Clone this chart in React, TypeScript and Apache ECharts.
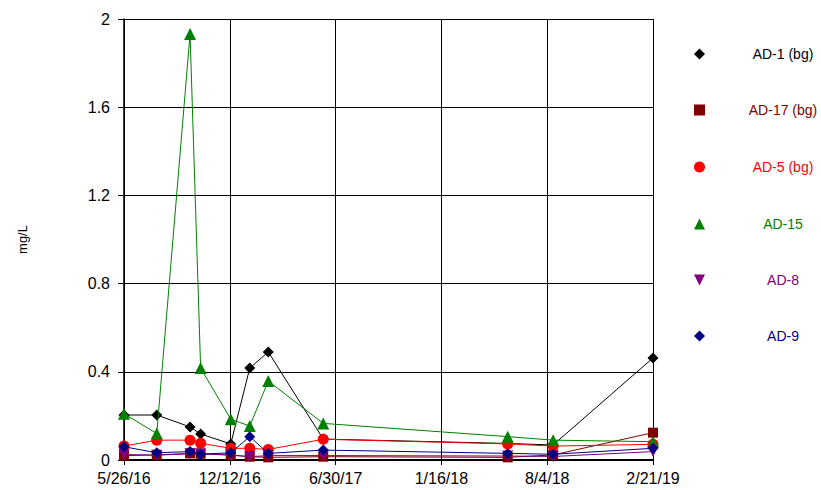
import React, { useEffect, useRef } from "react";
import * as echarts from "echarts";

const sampleDates = [
  "2016-05-26", "2016-07-27", "2016-09-28", "2016-10-18", "2016-12-14", "2017-01-19",
  "2017-02-23", "2017-06-07", "2018-05-22", "2018-08-16", "2019-02-21",
];

const ad1 = [0.204, 0.204, 0.150, 0.118, 0.073, 0.417, 0.490, 0.095, 0.075, 0.068, 0.463];
const ad17 = [0.020, 0.023, 0.030, 0.028, 0.023, 0.015, 0.012, 0.015, 0.012, 0.023, 0.124];
const ad5 = [0.063, 0.090, 0.090, 0.076, 0.053, 0.053, 0.048, 0.094, 0.073, 0.063, 0.071];
const ad15 = [0.210, 0.120, 1.932, 0.417, 0.185, 0.154, 0.358, 0.166, 0.106, 0.090, 0.083];
const ad8 = [0.025, 0.022, 0.028, 0.028, 0.022, 0.015, 0.020, 0.020, 0.018, 0.016, 0.038];
const ad9 = [0.060, 0.033, 0.038, 0.026, 0.033, 0.106, 0.030, 0.045, 0.030, 0.026, 0.053];

const yTicks = { min: 0, max: 2, step: 0.4 };
const xRange = { start: "2016-05-26", end: "2019-02-21", divisions: 5 };

const BASE = Date.UTC(2016, 4, 26);
const DAY = 86400000;
const toDay = (s: string) => {
  const [y, m, d] = s.split("-").map(Number);
  return Math.round((Date.UTC(y, m - 1, d) - BASE) / DAY);
};
const fmtDate = (v: number) => {
  const d = new Date(BASE + Math.floor(v + 1e-6) * DAY);
  return `${d.getUTCMonth() + 1}/${d.getUTCDate()}/${String(d.getUTCFullYear()).slice(2)}`;
};

const FONT = "'Liberation Sans', Arial, sans-serif";
const DOWN_TRI = "path://M0,0L10,0L5,10Z";

const seriesDefs = [
  { name: "AD-1 (bg)", values: ad1, color: "#000000", symbol: "diamond", size: 11, legendY: 56 },
  { name: "AD-17 (bg)", values: ad17, color: "#800000", symbol: "rect", size: 10, legendY: 112 },
  { name: "AD-5 (bg)", values: ad5, color: "#FF0000", symbol: "circle", size: 11, legendY: 169 },
  { name: "AD-15", values: ad15, color: "#008000", symbol: "triangle", size: 12, legendY: 226 },
  { name: "AD-8", values: ad8, color: "#800080", symbol: DOWN_TRI, size: 11, legendY: 282 },
  { name: "AD-9", values: ad9, color: "#000080", symbol: "diamond", size: 11, legendY: 338 },
];

export default function App() {
  const ref = useRef<HTMLDivElement>(null);
  useEffect(() => {
    if (!ref.current) return;
    const chart = echarts.init(ref.current, null, { renderer: "svg" });
    const xMax = toDay(xRange.end) - toDay(xRange.start);
    const option = {
      animation: false,
      backgroundColor: "#ffffff",
      textStyle: { fontFamily: FONT },
      grid: { left: 124, right: 168, top: 19, bottom: 30, containLabel: false },
      legend: seriesDefs.map((s) => ({
        data: [s.name],
        orient: "vertical",
        left: 694,
        top: s.legendY - 9,
        padding: 0,
        itemWidth: 11,
        itemHeight: 11,
        icon: s.symbol,
        selectedMode: false,
        formatter: (n: string) => `{t|${n}}`,
        textStyle: {
          color: s.color,
          fontSize: 14,
          fontFamily: FONT,
          rich: {
            t: { color: s.color, fontSize: 14, fontFamily: FONT, width: 72, align: "center", padding: [0, 0, 0, 37] },
          },
        },
      })),
      xAxis: {
        type: "value",
        min: 0,
        max: xMax,
        interval: xMax / xRange.divisions,
        axisLine: { show: true, lineStyle: { color: "#000", width: 2 } },
        axisTick: { show: true, length: 5, lineStyle: { color: "#000", width: 1 } },
        axisLabel: { color: "#000", fontSize: 16, fontFamily: FONT, margin: 10, formatter: fmtDate, showMinLabel: true, showMaxLabel: true },
        splitLine: { show: true, lineStyle: { color: "#000", width: 1 } },
      },
      yAxis: {
        type: "value",
        min: yTicks.min,
        max: yTicks.max,
        interval: yTicks.step,
        name: "mg/L",
        nameLocation: "middle",
        nameRotate: 90,
        nameGap: 95,
        nameTextStyle: { color: "#000", fontSize: 13, fontFamily: FONT },
        axisLine: { show: true, lineStyle: { color: "#000", width: 1.5 } },
        axisTick: { show: true, length: 6, lineStyle: { color: "#000", width: 1 } },
        axisLabel: { color: "#000", fontSize: 16, fontFamily: FONT, margin: 14 },
        splitLine: { show: true, lineStyle: { color: "#000", width: 1 } },
      },
      series: seriesDefs.map((s, i) => ({
        name: s.name,
        type: "line",
        data: sampleDates.map((d, j) => [toDay(d), s.values[j]]),
        symbol: s.symbol,
        symbolSize: s.size,
        showAllSymbol: true,
        clip: false,
        z: 2 + i,
        lineStyle: { color: s.color, width: 1 },
        itemStyle: { color: s.color },
        emphasis: { disabled: true },
      })),
    };
    chart.setOption(option as any);
    return () => chart.dispose();
  }, []);
  return <div ref={ref} style={{ position: "fixed", left: 0, top: 0, width: 821, height: 490 }} />;
}
